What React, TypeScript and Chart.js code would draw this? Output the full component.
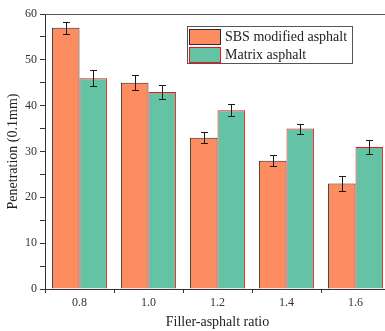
import React, { useEffect, useRef } from "react";
import { Chart, registerables } from "chart.js";

Chart.register(...registerables);

const categories = ["0.8", "1.0", "1.2", "1.4", "1.6"];
const seriesNames = ["SBS modified asphalt", "Matrix asphalt"];
const sbsValues = [57, 45, 33, 28, 23];
const sbsErrors = [1.3, 1.6, 1.2, 1.2, 1.6];
const matrixValues = [46, 43, 39, 35, 31];
const matrixErrors = [1.7, 1.6, 1.35, 1.1, 1.5];
const errorsBySeries = [sbsErrors, matrixErrors];

const FONT = "'Liberation Serif', 'Times New Roman', serif";

const errorBarPlugin = {
  id: "errorBars",
  afterDatasetsDraw(chart: any) {
    const ctx = chart.ctx;
    const y = chart.scales.y;
    ctx.save();
    ctx.strokeStyle = "#1a1a1a";
    ctx.lineWidth = 1;
    chart.data.datasets.forEach((ds: any, di: number) => {
      const meta = chart.getDatasetMeta(di);
      const errs = errorsBySeries[di];
      meta.data.forEach((bar: any, i: number) => {
        const v = ds.data[i];
        const e = errs[i];
        const x = Math.round(bar.x) + 0.5;
        const yt = Math.round(y.getPixelForValue(v + e)) + 0.5;
        const yb = Math.round(y.getPixelForValue(v - e)) + 0.5;
        ctx.beginPath();
        ctx.moveTo(x, yt);
        ctx.lineTo(x, yb);
        ctx.moveTo(x - 3.5, yt);
        ctx.lineTo(x + 3.5, yt);
        ctx.moveTo(x - 3.5, yb);
        ctx.lineTo(x + 3.5, yb);
        ctx.stroke();
      });
    });
    ctx.restore();
  },
};

const framePlugin = {
  id: "frameTop",
  afterDraw(chart: any) {
    const { ctx, chartArea } = chart;
    ctx.save();
    ctx.strokeStyle = "#555";
    ctx.lineWidth = 1;
    ctx.beginPath();
    ctx.moveTo(chartArea.left, Math.round(chartArea.top) + 0.5);
    ctx.lineTo(chartArea.right, Math.round(chartArea.top) + 0.5);
    ctx.stroke();
    ctx.restore();
  },
};

const legendBoxPlugin = {
  id: "legendBox",
  afterDraw(chart: any) {
    const ctx = chart.ctx;
    const bx = 187.5, by = 26.5, bw = 165, bh = 37;
    ctx.save();
    ctx.fillStyle = "#ffffff";
    ctx.fillRect(bx, by, bw, bh);
    ctx.strokeStyle = "#555";
    ctx.lineWidth = 1;
    ctx.strokeRect(bx, by, bw, bh);
    chart.data.datasets.forEach((ds: any, i: number) => {
      const sy = 29 + i * 18;
      ctx.fillStyle = ds.backgroundColor;
      ctx.fillRect(189.5, sy + 0.5, 31, 15);
      ctx.strokeStyle = ds.borderColor;
      ctx.strokeRect(189.5, sy + 0.5, 31, 15);
      ctx.fillStyle = "#222";
      ctx.font = `14px ${FONT}`;
      ctx.textBaseline = "middle";
      ctx.textAlign = "left";
      ctx.fillText(ds.label, 225, sy + 8.5);
    });
    ctx.restore();
  },
};

export default function App() {
  const ref = useRef<HTMLCanvasElement | null>(null);
  useEffect(() => {
    if (!ref.current) return;
    const chart = new Chart(ref.current, {
      type: "bar",
      data: {
        labels: categories,
        datasets: [
          {
            label: seriesNames[0],
            data: sbsValues,
            backgroundColor: "#FD8C61",
            borderColor: "#2b2b2b",
            borderWidth: 1,
            categoryPercentage: 0.8,
            barPercentage: 1.0,
          },
          {
            label: seriesNames[1],
            data: matrixValues,
            backgroundColor: "#64C2A5",
            borderColor: "#FF1010",
            borderWidth: 1,
            categoryPercentage: 0.8,
            barPercentage: 1.0,
          },
        ],
      },
      options: {
        responsive: false,
        animation: false,
        devicePixelRatio: 1,
        layout: { padding: { top: 14, right: 5, left: 0, bottom: 0 } },
        plugins: {
          legend: { display: false },
          tooltip: { enabled: false },
        },
        scales: {
          x: {
            offset: true,
            grid: {
              offset: true,
              display: true,
              drawOnChartArea: false,
              drawTicks: true,
              tickLength: 4,
              color: "#333",
            },
            border: { display: true, color: "#333", width: 1 },
            ticks: {
              color: "#333",
              font: { family: FONT, size: 12 },
              padding: 3,
              maxRotation: 0,
            },
            title: {
              display: true,
              text: "Filler-asphalt ratio",
              color: "#222",
              font: { family: FONT, size: 14 },
              padding: { top: 0, bottom: 0 },
            },
            afterFit(scale: any) {
              scale.height = 42;
            },
          },
          y: {
            min: 0,
            max: 60,
            grid: {
              display: true,
              drawOnChartArea: false,
              drawTicks: true,
              tickLength: 5,
              color: "#333",
            },
            border: { display: true, color: "#333", width: 1 },
            ticks: {
              stepSize: 5,
              autoSkip: false,
              color: "#333",
              font: { family: FONT, size: 12 },
              padding: 3,
              callback: (v: any) => (Number(v) % 10 === 0 ? String(v) : ""),
            },
            title: {
              display: true,
              text: "Penetration (0.1mm)",
              color: "#222",
              font: { family: FONT, size: 14 },
              padding: { top: 5, bottom: 0 },
            },
            afterFit(scale: any) {
              scale.width = 45;
            },
          },
        },
      },
      plugins: [errorBarPlugin, framePlugin, legendBoxPlugin],
    });
    return () => chart.destroy();
  }, []);
  return (
    <div
      style={{
        position: "fixed",
        left: 0,
        top: 0,
        width: 385,
        height: 331,
        overflow: "hidden",
        background: "#fff",
      }}
    >
      <canvas ref={ref} width={395} height={331} style={{ display: "block" }} />
    </div>
  );
}
